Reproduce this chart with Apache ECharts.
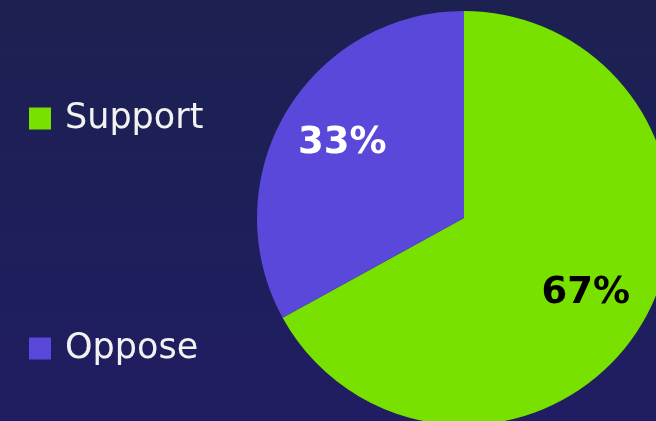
<!DOCTYPE html>
<html>
<head>
<meta charset="utf-8">
<script src="https://cdn.jsdelivr.net/npm/echarts@6/dist/echarts.min.js"></script>
<style>
  html, body { margin: 0; padding: 0; }
  #chart { width: 656px; height: 421px; }
</style>
</head>
<body>
<div id="chart"></div>
<script>
// 数据
const categories = ['Support', 'Oppose']
const values = [67, 33]
const colors = ['#78e100', '#5a48da']
const labelColors = ['#000000', '#ffffff']

const chart = echarts.init(document.getElementById('chart'), null, { renderer: 'canvas' })

const pieData = categories.map((name, i) => ({
  name,
  value: values[i],
  itemStyle: { color: colors[i] }
}))

// 标签单独一层透明饼图，使标签更靠外
const labelData = categories.map((name, i) => ({
  name,
  value: values[i],
  label: { color: labelColors[i] }
}))

const option = {
  backgroundColor: {
    type: 'linear', x: 0, y: 0, x2: 0, y2: 1,
    colorStops: [
      { offset: 0, color: '#1c2151' },
      { offset: 1, color: '#201d62' }
    ]
  },
  legend: {
    orient: 'vertical',
    left: 24,
    top: 96,
    itemWidth: 22,
    itemHeight: 22,
    itemGap: 195,
    icon: 'rect',
    data: categories,
    textStyle: {
      color: '#f2f2f2',
      fontFamily: 'DejaVu Sans',
      fontSize: 35,
      padding: [0, 0, 0, 9]
    }
  },
  series: [
    {
      type: 'pie',
      center: [464, 218],
      radius: [0, 207],
      startAngle: 90,
      clockwise: true,
      silent: true,
      label: { show: false },
      labelLine: { show: false },
      data: pieData
    },
    {
      type: 'pie',
      center: [464, 218],
      radius: [0, 280],
      startAngle: 89,
      clockwise: true,
      silent: true,
      itemStyle: { color: 'transparent' },
      label: {
        show: true,
        position: 'inside',
        formatter: '{c}%',
        fontFamily: 'DejaVu Sans',
        fontWeight: 'bold',
        fontSize: 37
      },
      labelLine: { show: false },
      data: labelData
    }
  ]
}

chart.setOption(option)
</script>
</body>
</html>
